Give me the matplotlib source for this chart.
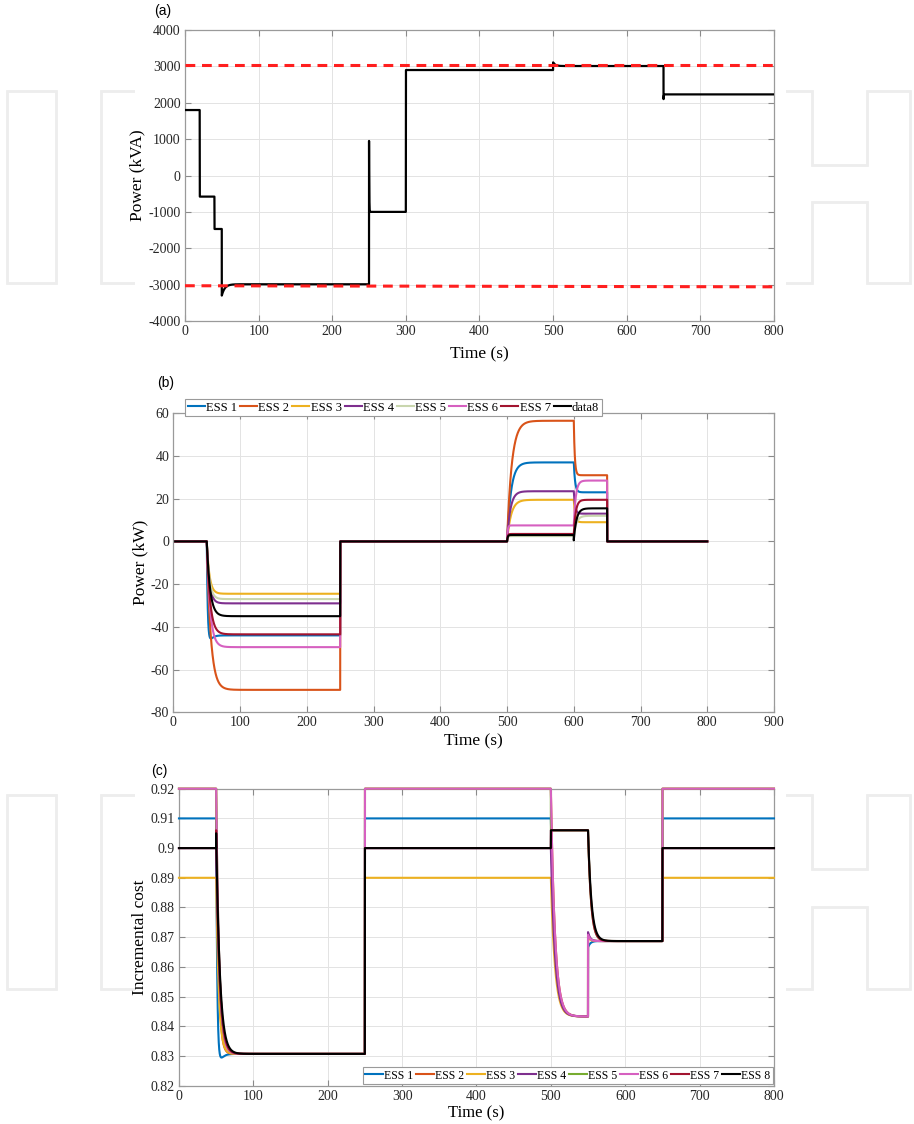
import numpy as np
import matplotlib
matplotlib.use("Agg")
import matplotlib.pyplot as plt
from matplotlib.patches import Polygon, Rectangle

plt.rcParams["font.family"] = "serif"
plt.rcParams["font.serif"] = ["Liberation Serif", "DejaVu Serif"]
plt.rcParams["axes.unicode_minus"] = False

W, H = 914, 1124

# ---- (a) grid-side apparent power, kVA ----
grid_edges = [0, 20, 40, 50, 250, 300, 500, 650, 800]
grid_kva = [1800, -580, -1470, -2990, -1000, 2900, 3010, 2230]
grid_start = [None, None, None, -3300, 950, None, 3110, 2100]
grid_tau = [0, 0, 0, 4, 0.2, 0, 3, 0.3]
limit_x = [0, 800]
limit_upper = [3030, 3030]
limit_lower = [-3030, -3060]

# ---- (b) ESS output power, kW ----
power_names = ["ESS 1", "ESS 2", "ESS 3", "ESS 4", "ESS 5", "ESS 6", "ESS 7", "data8"]
power_edges = [0, 50, 250, 500, 600, 650, 800]
ess1_kw = [0, -44, 0, 37, 23, 0]
ess2_kw = [0, -69.5, 0, 56.5, 31, 0]
ess3_kw = [0, -24.5, 0, 19.5, 9, 0]
ess4_kw = [0, -29, 0, 23.5, 13, 0]
ess5_kw = [0, -27, 0, 2.5, 12, 0]
ess6_kw = [0, -49.5, 0, 7.5, 28.5, 0]
ess7_kw = [0, -43.5, 0, 3.5, 19.5, 0]
ess8_kw = [0, -35, 0, 3, 15.5, 0]
ess1_kw_tau = [0, 1.5, 0, 6, 2, 0]
ess2_kw_tau = [0, 6, 0, 7, 1.5, 0]
ess3_kw_tau = [0, 4, 0, 6, 2, 0]
ess4_kw_tau = [0, 4, 0, 5, 2, 0]
ess5_kw_tau = [0, 4, 0, 1, 4, 0]
ess6_kw_tau = [0, 5, 0, 1, 3, 0]
ess7_kw_tau = [0, 5, 0, 1, 3, 0]
ess8_kw_tau = [0, 5, 0, 1, 4, 0]
ess1_kw_dip = [0, -11, 0, 0, 0, 0]
ess8_kw_start = [None, None, None, None, 0.5, None]

# ---- (c) incremental cost ----
cost_names = ["ESS 1", "ESS 2", "ESS 3", "ESS 4", "ESS 5", "ESS 6", "ESS 7", "ESS 8"]
cost_edges = [0, 50, 250, 500, 550, 650, 800]
ess1_cost = [0.91, 0.8307, 0.91, 0.8433, 0.8687, 0.91]
ess2_cost = [0.92, 0.8307, 0.92, 0.8433, 0.8687, 0.92]
ess3_cost = [0.89, 0.8307, 0.89, 0.8433, 0.8687, 0.89]
ess4_cost = [0.90, 0.8307, 0.90, 0.8433, 0.8687, 0.90]
ess5_cost = [0.92, 0.8307, 0.92, 0.906, 0.8687, 0.92]
ess6_cost = [0.92, 0.8307, 0.92, 0.8433, 0.8687, 0.92]
ess7_cost = [0.90, 0.8307, 0.90, 0.906, 0.8687, 0.90]
ess8_cost = [0.90, 0.8307, 0.90, 0.906, 0.8687, 0.90]
ess1_cost_tau = [0, 1.5, 0, 5.5, 3, 0]
ess2_cost_tau = [0, 3, 0, 5.5, 3, 0]
ess3_cost_tau = [0, 3.5, 0, 5.5, 3, 0]
ess4_cost_tau = [0, 4.5, 0, 5.5, 3, 0]
ess5_cost_tau = [0, 4, 0, 0, 4, 0]
ess6_cost_tau = [0, 4, 0, 5.5, 3, 0]
ess7_cost_tau = [0, 4.5, 0, 0, 4, 0]
ess8_cost_tau = [0, 5, 0, 0, 4.5, 0]
ess1_cost_start = [None, None, None, None, 0.8665, None]
ess2_cost_start = [None, None, None, None, 0.8705, None]
ess3_cost_start = [None, None, None, None, 0.8700, None]
ess4_cost_start = [None, None, None, None, 0.8717, None]
ess6_cost_start = [None, None, None, None, 0.8708, None]
ess7_cost_start = [None, 0.906, None, None, None, None]
ess8_cost_start = [None, 0.905, None, None, None, None]
ess1_cost_dip = [0, -0.012, 0, 0, 0, 0]

colors = ["#0072BD", "#D95319", "#EDB120", "#7E2F8E", "#77AC30", "#D660C0", "#A2142F", "black"]
colors_b = colors[:4] + ["#C9D6AE"] + colors[5:]


def trace(t, edges, levels, taus, starts=None, dips=None, dip_tau=4.0):
    """Piecewise first-order settling between the plateau levels."""
    y = np.empty_like(t)
    prev = levels[0]
    n = len(levels)
    for k in range(n):
        lo, hi = edges[k], edges[k + 1]
        m = (t >= lo) & ((t < hi) if k < n - 1 else (t <= hi))
        s = prev if starts is None or starts[k] is None else starts[k]
        d = 0.0 if dips is None else dips[k]
        dt = t[m] - lo
        if taus[k] > 0:
            a = s - levels[k] - d
            y[m] = levels[k] + a * np.exp(-dt / taus[k]) + d * np.exp(-dt / dip_tau)
        else:
            y[m] = levels[k]
        prev = y[m][-1]
    return y


def style_axes(ax, xlim, xticks, ylim, yticks):
    ax.set_xlim(*xlim)
    ax.set_ylim(*ylim)
    ax.set_xticks(xticks)
    ax.set_yticks(yticks)
    ax.grid(True, color="#e3e3e3", linewidth=0.7)
    ax.set_axisbelow(True)
    for sp in ax.spines.values():
        sp.set_color("#9a9a9a")
        sp.set_linewidth(0.9)
    ax.tick_params(direction="in", top=True, right=True, length=4, width=0.8,
                   color="#8a8a8a", labelsize=10, labelcolor="#262626", pad=3)


def px(x, y):
    return (x / W, 1 - y / H)


fig = plt.figure(figsize=(W / 100, H / 100), dpi=100)

# faint logo outline behind the plots
for top, c1, c2, bot in [(91, 165, 202, 283), (795, 869, 907, 989)]:
    i_pts = [px(7, top), px(56, top), px(56, bot), px(7, bot)]
    h_pts = [px(101, top), px(812, top), px(812, c1), px(867, c1), px(867, top),
             px(910, top), px(910, bot), px(867, bot), px(867, c2), px(812, c2),
             px(812, bot), px(101, bot)]
    for pts in (i_pts, h_pts):
        fig.add_artist(Polygon(pts, closed=True, fill=False, edgecolor="#ededed",
                               linewidth=2.0, transform=fig.transFigure, zorder=-3))
fig.add_artist(Rectangle((135 / W, 0), (786 - 135) / W, 1, facecolor="white",
                         edgecolor="none", transform=fig.transFigure, zorder=-2))

t = np.arange(0, 800.0001, 0.05)

# ---- (a) ----
ax1 = fig.add_axes([0.2024, 0.7144, 0.6444, 0.2589])
style_axes(ax1, (0, 800), np.arange(0, 801, 100), (-4000, 4000), np.arange(-4000, 4001, 1000))
ax1.plot(t, trace(t, grid_edges, grid_kva, grid_tau, grid_start), color="black", linewidth=1.6, zorder=3)
ax1.plot(limit_x, limit_upper, color="#FF1F1F", linestyle=(0, (3.2, 2.2)), linewidth=2.2, zorder=4, clip_on=False)
ax1.plot(limit_x, limit_lower, color="#FF1F1F", linestyle=(0, (3.2, 2.2)), linewidth=2.2, zorder=4, clip_on=False)
ax1.set_ylabel("Power (kVA)", fontsize=12.5)
ax1.set_xlabel("Time (s)", fontsize=12.5)
ax1.yaxis.set_label_coords(-0.067, 0.5)
ax1.xaxis.set_label_coords(0.5, -0.088)
fig.text(162.8 / W, 1 - 11.5 / H, "(a)", family="Liberation Sans", fontsize=10, ha="center", va="center")

# ---- (b) ----
ax2 = fig.add_axes([0.1897, 0.3663, 0.6571, 0.2660])
style_axes(ax2, (0, 900), np.arange(0, 901, 100), (-80, 60), np.arange(-80, 61, 20))
power_series = [
    trace(t, power_edges, ess1_kw, ess1_kw_tau, dips=ess1_kw_dip),
    trace(t, power_edges, ess2_kw, ess2_kw_tau),
    trace(t, power_edges, ess3_kw, ess3_kw_tau),
    trace(t, power_edges, ess4_kw, ess4_kw_tau),
    trace(t, power_edges, ess5_kw, ess5_kw_tau),
    trace(t, power_edges, ess6_kw, ess6_kw_tau),
    trace(t, power_edges, ess7_kw, ess7_kw_tau),
    trace(t, power_edges, ess8_kw, ess8_kw_tau, ess8_kw_start),
]
for name, y, c in zip(power_names, power_series, colors_b):
    ax2.plot(t, y, color=c, linewidth=1.5, label=name)
ax2.set_ylabel("Power (kW)", fontsize=12.5)
ax2.set_xlabel("Time (s)", fontsize=12.5)
ax2.yaxis.set_label_coords(-0.041, 0.5)
ax2.xaxis.set_label_coords(0.5, -0.071)
leg2 = ax2.legend(loc="lower left", bbox_to_anchor=(0.020, 0.990), ncol=8, fontsize=9,
                  handlelength=1.35, handletextpad=0.1, columnspacing=0.25,
                  borderpad=0.2, borderaxespad=0, fancybox=False, framealpha=1)
leg2.get_frame().set_edgecolor("#9a9a9a")
leg2.get_frame().set_linewidth(0.8)
fig.text(165.8 / W, 1 - 383 / H, "(b)", family="Liberation Sans", fontsize=10, ha="center", va="center")

# ---- (c) ----
ax3 = fig.add_axes([0.1958, 0.0341, 0.6510, 0.2642])
style_axes(ax3, (0, 800), np.arange(0, 801, 100), (0.82, 0.92), np.linspace(0.82, 0.92, 11))
ax3.yaxis.set_major_formatter(matplotlib.ticker.FuncFormatter(lambda v, p: f"{v:.2f}".rstrip("0")))
cost_series = [
    trace(t, cost_edges, ess1_cost, ess1_cost_tau, ess1_cost_start, ess1_cost_dip),
    trace(t, cost_edges, ess2_cost, ess2_cost_tau, ess2_cost_start),
    trace(t, cost_edges, ess3_cost, ess3_cost_tau, ess3_cost_start),
    trace(t, cost_edges, ess4_cost, ess4_cost_tau, ess4_cost_start),
    trace(t, cost_edges, ess5_cost, ess5_cost_tau),
    trace(t, cost_edges, ess6_cost, ess6_cost_tau, ess6_cost_start),
    trace(t, cost_edges, ess7_cost, ess7_cost_tau, ess7_cost_start),
    trace(t, cost_edges, ess8_cost, ess8_cost_tau, ess8_cost_start),
]
for name, y, c in zip(cost_names, cost_series, colors):
    # plateaus at 0.92 sit on the top frame, so they are drawn over it
    ax3.plot(t, y, color=c, linewidth=1.5, label=name, zorder=3, clip_on=False)
ax3.set_ylabel("Incremental cost", fontsize=12.5)
ax3.set_xlabel("Time (s)", fontsize=12)
ax3.yaxis.set_label_coords(-0.052, 0.5)
ax3.xaxis.set_label_coords(0.5, -0.067)
leg3 = ax3.legend(loc="lower right", bbox_to_anchor=(0.998, 0.006), ncol=8, fontsize=8.5,
                  handlelength=1.5, handletextpad=0.1, columnspacing=0.25,
                  borderpad=0.2, borderaxespad=0, fancybox=False, framealpha=1)
leg3.get_frame().set_edgecolor("#9a9a9a")
leg3.get_frame().set_linewidth(0.8)
leg3.set_zorder(5)
fig.text(159.5 / W, 1 - 770.7 / H, "(c)", family="Liberation Sans", fontsize=10, ha="center", va="center")

fig.savefig("out.png", dpi=100)
